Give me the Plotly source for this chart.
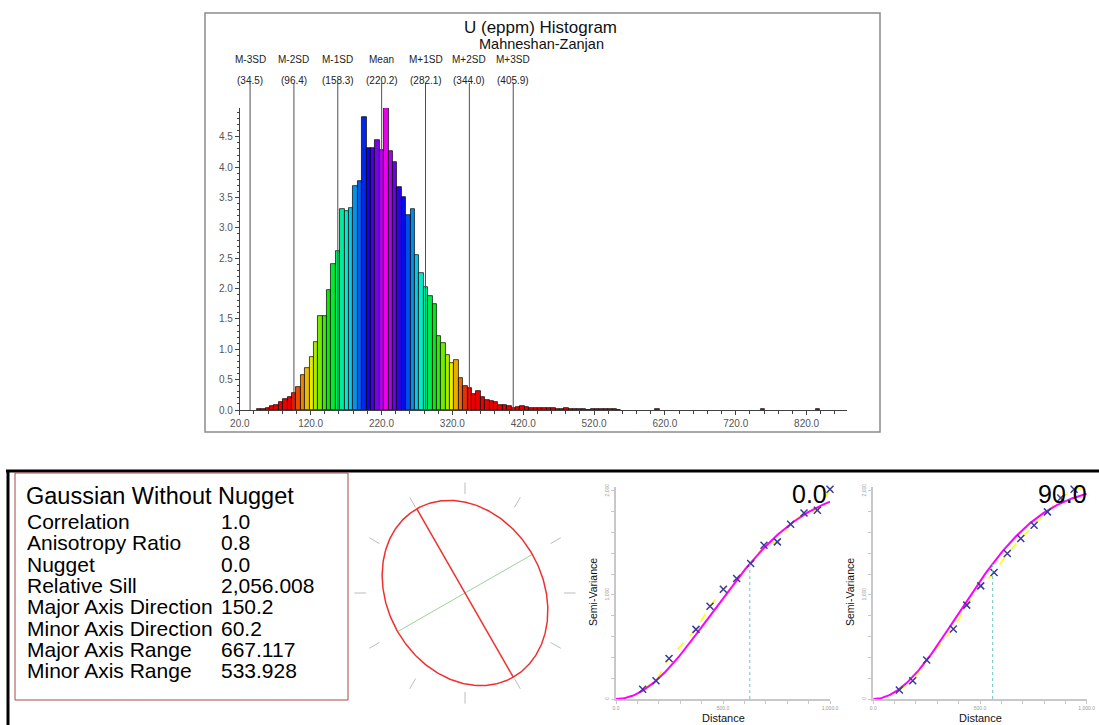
import numpy as np
import plotly.graph_objects as go

W, H = 1099, 725
FONT = "Liberation Sans, Arial, sans-serif"


def px(x):
    return x / W


def py(y):
    return 1 - y / H


# ---------------- Histogram data ----------------
hist_title = "U (eppm) Histogram"
hist_subtitle = "Mahneshan-Zanjan"
bin_start = 43.7
bin_width = 6.2
bin_heights = [
    0.01, 0.02, 0.04, 0.07, 0.09, 0.13, 0.18, 0.22, 0.28, 0.38,
    0.57, 0.70, 0.87, 1.12, 1.55, 1.55, 1.98, 2.40, 2.62,
    3.31, 3.28, 3.33, 3.69, 3.77, 4.83, 4.31, 4.31, 4.44, 4.29,
    4.97, 4.26, 4.09, 3.68, 3.51, 3.22, 3.31, 2.55, 2.25, 2.03,
    1.87, 1.75, 1.22, 1.10, 0.91, 0.78, 0.82, 0.53, 0.40, 0.36,
    0.27, 0.32, 0.22, 0.16,
    0.15, 0.14, 0.09, 0.09, 0.07, 0.04, 0.05, 0.07, 0.05, 0.04,
    0.04, 0.04, 0.04, 0.04, 0.03, 0.01, 0.02, 0.03, 0.02, 0.01,
    0.01, 0.01, 0.00, 0.01, 0.01, 0.01, 0.01, 0.01, 0.01, 0.00,
]
outlier_centers = [609.0, 758.0, 836.0]
outlier_heights = [0.01, 0.01, 0.01]

sd_labels = ["M-3SD", "M-2SD", "M-1SD", "Mean", "M+1SD", "M+2SD", "M+3SD"]
sd_values = [34.5, 96.4, 158.3, 220.2, 282.1, 344.0, 405.9]

hist_x_range = [20, 877]
hist_y_range = [0, 4.975]

# ---------------- Variogram model data ----------------
model_name = "Gaussian Without Nugget"
param_labels = ["Correlation", "Anisotropy Ratio", "Nugget", "Relative Sill",
                "Major Axis Direction", "Minor Axis Direction",
                "Major Axis Range", "Minor Axis Range"]
param_values = ["1.0", "0.8", "0.0", "2,056.008", "150.2", "60.2",
                "667.117", "533.928"]
sill = 2056.008
major_dir = 150.2
minor_dir = 60.2
major_range = 667.117
minor_range = 533.928

vario_dirs = [0.0, 90.0]
lag_dist_0 = [124.6, 187.0, 247.7, 373.8, 439.3, 501.6, 563.7, 629.3,
              691.6, 753.9, 816.2, 878.5, 940.8, 1000.0]
semivar_0 = [93, 176, 390, 669, 892, 1055, 1158, 1302, 1478, 1510,
             1679, 1788, 1814, 2015]
lag_dist_90 = [122.0, 184.7, 250.0, 375.0, 437.8, 503.5, 566.0, 628.0,
               691.0, 753.4, 816.0, 878.5, 941.0, 1003.0]
semivar_90 = [86, 176, 374, 672, 902, 1087, 1216, 1398, 1542, 1670,
              1798, 1932, 2015, 2047]

fig = go.Figure()

# ---------------- Histogram ----------------
n_bins = len(bin_heights)
centers = [bin_start + bin_width * (i + 0.5) for i in range(n_bins)]
peak = int(np.argmax(bin_heights))
colors = []
for i in range(n_bins):
    d = i - peak
    h = 300 - (14.0 * (-d) if d < 0 else 16.0 * d)
    h = max(0.0, h)
    colors.append(f"hsl({h:.0f},100%,46%)")
all_x = centers + outlier_centers
all_y = bin_heights + outlier_heights
all_c = colors + ["hsl(0,100%,46%)"] * len(outlier_centers)

fig.add_trace(go.Bar(
    x=all_x, y=all_y, width=bin_width,
    marker=dict(color=all_c, line=dict(color="black", width=0.7)),
    xaxis="x", yaxis="y", showlegend=False, hoverinfo="skip"))

# ---------------- Ellipse ----------------
phi = np.radians(major_dir)
phi2 = np.radians(minor_dir)
u_maj = (np.sin(phi), np.cos(phi))
u_min = (np.sin(phi2), np.cos(phi2))
t = np.linspace(0, 2 * np.pi, 361)
ex = major_range * np.cos(t) * u_maj[0] + minor_range * np.sin(t) * u_min[0]
ey = major_range * np.cos(t) * u_maj[1] + minor_range * np.sin(t) * u_min[1]

# compass ticks
tx, ty = [], []
for k in range(12):
    a = np.radians(30 * k)
    r1, r2 = 1.02 * major_range, 1.14 * major_range
    tx += [r1 * np.sin(a), r2 * np.sin(a), None]
    ty += [r1 * np.cos(a), r2 * np.cos(a), None]
fig.add_trace(go.Scatter(x=tx, y=ty, mode="lines",
                         line=dict(color="#bdbdbd", width=1),
                         xaxis="x3", yaxis="y3", showlegend=False, hoverinfo="skip"))
fig.add_trace(go.Scatter(x=[-minor_range * u_min[0], minor_range * u_min[0]],
                         y=[-minor_range * u_min[1], minor_range * u_min[1]],
                         mode="lines", line=dict(color="#9ad39a", width=1),
                         xaxis="x3", yaxis="y3", showlegend=False, hoverinfo="skip"))
fig.add_trace(go.Scatter(x=[-major_range * u_maj[0], major_range * u_maj[0]],
                         y=[-major_range * u_maj[1], major_range * u_maj[1]],
                         mode="lines", line=dict(color="#f03030", width=1.5),
                         xaxis="x3", yaxis="y3", showlegend=False, hoverinfo="skip"))
fig.add_trace(go.Scatter(x=ex, y=ey, mode="lines",
                         line=dict(color="#f03030", width=1.5),
                         xaxis="x3", yaxis="y3", showlegend=False, hoverinfo="skip"))


# ---------------- Variograms ----------------
def dir_range(az):
    d = np.radians(az - major_dir)
    return 1.0 / np.sqrt((np.cos(d) / major_range) ** 2 + (np.sin(d) / minor_range) ** 2)


def gauss(hh, r):
    return sill * (1 - np.exp(-(np.asarray(hh) / r) ** 2))


vario_sets = [(lag_dist_0, semivar_0, "x4", "y4"),
              (lag_dist_90, semivar_90, "x5", "y5")]
shapes = []
for (lx, sv, xa, ya), az in zip(vario_sets, vario_dirs):
    r = dir_range(az)
    hh = np.linspace(0, 1000, 201)
    fig.add_trace(go.Scatter(x=lx, y=sv, mode="lines",
                             line=dict(color="#ffff00", width=1.5, dash="dash"),
                             xaxis=xa, yaxis=ya, showlegend=False, hoverinfo="skip",
                             cliponaxis=False))
    fig.add_trace(go.Scatter(x=hh, y=gauss(hh, r), mode="lines",
                             line=dict(color="#ff00ff", width=2),
                             xaxis=xa, yaxis=ya, showlegend=False, hoverinfo="skip",
                             cliponaxis=False))
    fig.add_trace(go.Scatter(x=lx, y=sv, mode="markers",
                             marker=dict(symbol="x-thin", size=7,
                                         line=dict(color="#3a3a9a", width=1.5)),
                             xaxis=xa, yaxis=ya, showlegend=False, hoverinfo="skip",
                             cliponaxis=False))
    shapes.append(dict(type="line", xref=xa, yref=ya, x0=r, x1=r, y0=0,
                       y1=float(gauss(r, r)),
                       line=dict(color="#70c4c4", width=1, dash="dot")))

# ---------------- Shapes ----------------
# histogram window frame
shapes.append(dict(type="rect", xref="paper", yref="paper",
                   x0=px(205), x1=px(880), y0=py(432), y1=py(13),
                   line=dict(color="#8c8c8c", width=1.5)))
# SD lines
for v in sd_values:
    shapes.append(dict(type="line", xref="x", yref="paper", x0=v, x1=v,
                       y0=py(410), y1=py(83),
                       line=dict(color="#505050", width=1), layer="above"))
# bottom black frame
shapes.append(dict(type="line", xref="paper", yref="paper",
                   x0=px(6), x1=1, y0=py(471), y1=py(471),
                   line=dict(color="black", width=3)))
shapes.append(dict(type="line", xref="paper", yref="paper",
                   x0=px(8), x1=px(8), y0=py(471), y1=0,
                   line=dict(color="black", width=3)))
# parameter box
shapes.append(dict(type="rect", xref="paper", yref="paper",
                   x0=px(15), x1=px(348), y0=py(700), y1=py(473),
                   line=dict(color="#a84848", width=1)))


# ---------------- Annotations ----------------
def note(text, x, y, size, color="#111", xref="paper", xanchor="center",
         yanchor="middle", angle=0):
    return dict(text=text, xref=xref, yref="paper", x=x, y=y,
                xanchor=xanchor, yanchor=yanchor, textangle=angle,
                showarrow=False, font=dict(family=FONT, size=size, color=color))


ann = []
ann.append(note(hist_title, px(540), py(28), 17))
ann.append(note(hist_subtitle, px(541), py(44), 14.5))
for lab, v in zip(sd_labels, sd_values):
    ann.append(note(lab, v, py(59), 10, "#222", xref="x"))
    ann.append(note(f"({v:.1f})", v, py(80), 10, "#222", xref="x"))

ann.append(note(model_name, px(24), py(496), 23.5, "black", xanchor="left"))
row_y = [521, 542.5, 564, 585, 606.5, 628, 649, 670]
for lab, val, yy in zip(param_labels, param_values, row_y):
    ann.append(note(lab, px(25), py(yy), 21, "black", xanchor="left"))
    ann.append(note(val, px(219), py(yy), 21, "black", xanchor="left"))

for (lab_x, dist_x, title_x), az in zip([(593, 723, 829), (850, 980, 1089)], vario_dirs):
    ann.append(note("Semi-Variance", px(lab_x), py(592), 10.5, angle=-90))
    ann.append(note("Distance", px(dist_x), py(718), 11))
    ann.append(note(f"{az:.1f}", px(title_x), py(494), 25, "black", xanchor="right"))

# ---------------- Layout ----------------
tickfont_h = dict(family=FONT, size=10, color="#555")
hist_x = dict(domain=[px(239.8), px(847)], range=hist_x_range, anchor="y",
              showline=True, linecolor="#404040", linewidth=1,
              ticks="outside", ticklen=4, tickcolor="#404040",
              tick0=20, dtick=100, tickformat=".1f", tickfont=tickfont_h,
              minor=dict(ticks="outside", ticklen=3, tick0=20, dtick=20,
                         tickcolor="#404040", showgrid=False),
              showgrid=False, zeroline=False, fixedrange=True, automargin=False)
hist_y = dict(domain=[py(410), py(108)], range=hist_y_range, anchor="x",
              showline=True, linecolor="#404040", linewidth=1,
              ticks="outside", ticklen=4, tickcolor="#404040",
              tick0=0, dtick=0.5, tickformat=".1f", tickfont=tickfont_h,
              minor=dict(ticks="outside", ticklen=2, dtick=0.1,
                         tickcolor="#404040", showgrid=False),
              showgrid=False, zeroline=False, fixedrange=True, automargin=False)
hist_y2 = dict(hist_y, overlaying="y", side="right", anchor="x")

ell_half = 130 / 0.1454
ell_x = dict(domain=[px(465 - 130), px(465 + 130)], range=[-ell_half, ell_half],
             anchor="y3", visible=False, fixedrange=True, automargin=False)
ell_y = dict(domain=[py(593 + 130), py(593 - 130)], range=[-ell_half, ell_half],
             anchor="x3", visible=False, fixedrange=True, automargin=False)

vtick = dict(family=FONT, size=5, color="#999")


def vx(x0, x1, anchor):
    return dict(domain=[px(x0), px(x1)], range=[0, 1000], anchor=anchor,
                showline=True, linecolor="#c8c8c8", linewidth=2,
                ticks="outside", ticklen=3, tickcolor="#c8c8c8",
                tick0=0, dtick=500, tickformat=",.1f", tickfont=vtick,
                minor=dict(ticks="outside", ticklen=3, dtick=100,
                           tickcolor="#c8c8c8", showgrid=False),
                showgrid=False, zeroline=False, fixedrange=True, automargin=False)


def vy(anchor):
    return dict(domain=[py(699), py(486.7)], range=[0, 2040], anchor=anchor,
                showline=True, linecolor="#c8c8c8", linewidth=2,
                ticks="outside", ticklen=3, tickcolor="#c8c8c8",
                tick0=0, dtick=1000, tickformat=",", tickfont=vtick, tickangle=-90,
                minor=dict(ticks="outside", ticklen=3, dtick=200,
                           tickcolor="#c8c8c8", showgrid=False),
                showgrid=False, zeroline=False, fixedrange=True, automargin=False)


fig.update_layout(
    width=W, height=H, autosize=False,
    margin=dict(l=0, r=0, t=0, b=0, pad=0),
    paper_bgcolor="white", plot_bgcolor="white",
    showlegend=False, bargap=0, barmode="overlay",
    font=dict(family=FONT),
    xaxis=hist_x, yaxis=hist_y, yaxis2=hist_y2,
    xaxis3=ell_x, yaxis3=ell_y,
    xaxis4=vx(616, 830, "y4"), yaxis4=vy("x4"),
    xaxis5=vx(873.3, 1086.7, "y5"), yaxis5=vy("x5"),
    shapes=shapes, annotations=ann,
)

fig.write_html("out.html", config={"displayModeBar": False},
               post_script="document.body.style.margin='0px';")
